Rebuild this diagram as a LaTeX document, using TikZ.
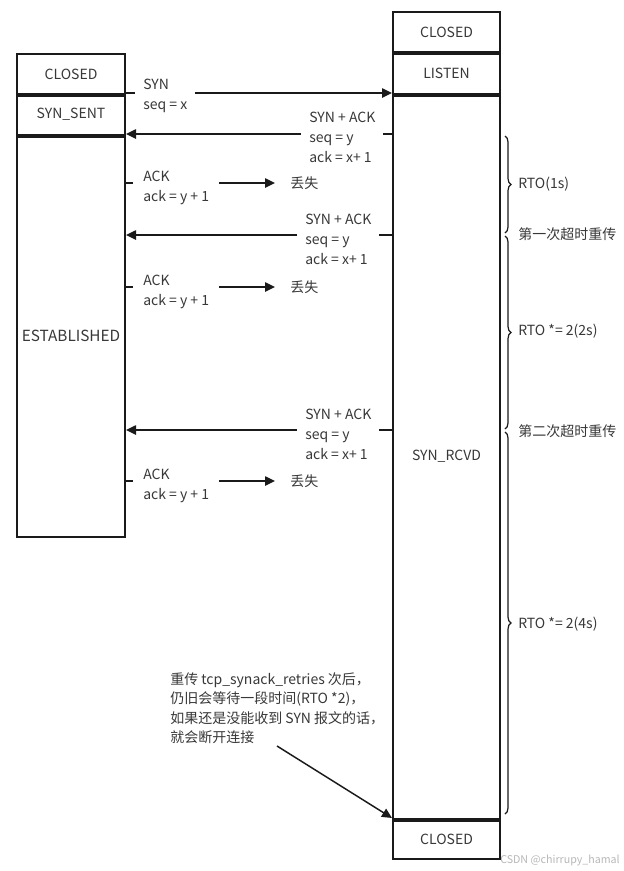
\documentclass[tikz,border=0pt]{standalone}
\usepackage{fontspec}
\setmainfont{Noto Sans CJK SC}
\usetikzlibrary{arrows.meta,decorations.pathreplacing}
\definecolor{txt}{HTML}{383838}
\definecolor{ln}{HTML}{1A1A1A}
\definecolor{wm}{HTML}{B8B8B8}
\begin{document}
\begin{tikzpicture}[x=0.75pt,y=-0.75pt,
  every node/.style={font=\fontsize{10.5}{15}\selectfont, text=txt},
  box/.style={draw=ln, line width=1.5pt, inner sep=0pt, anchor=north west},
  lbox/.style={box, minimum width=81pt},
  rbox/.style={box, minimum width=80.25pt},
  sepline/.style={draw=ln, line width=2.6pt},
  msg/.style={draw=ln, line width=1.1pt, -{Triangle[length=7.5pt,width=7pt]}},
  lbl/.style={fill=white, align=left, inner xsep=6pt, inner ysep=1pt, anchor=west},
  lost/.style={anchor=west, inner xsep=11.25pt, inner ysep=0pt},
  brc/.style={draw=ln, line width=0.9pt, decorate, decoration={brace, amplitude=4.5pt}},
  blbl/.style={anchor=west, inner sep=0pt}]
\useasboundingbox (0,0) rectangle (624,871);
\fill[white] (0,0) rectangle (624,871);

% left column
\node[lbox, minimum height=30pt] (lc) at (16,53) {CLOSED};
\node[lbox, minimum height=30.75pt] (ls) at (16,93) {SYN\_SENT};
\node[lbox, minimum height=301.5pt, font=\fontsize{11.5}{15}\selectfont] (le) at (16,134) {ESTABLISHED};
% right column
\node[rbox, minimum height=30pt] (rc) at (392,11) {CLOSED};
\node[rbox, minimum height=31.5pt] (rl) at (392,51) {LISTEN};
\node[rbox, minimum height=543.75pt] (rr) at (392,93) {SYN\_RCVD};
\node[rbox, minimum height=30pt] (rc2) at (392,818) {CLOSED};

\draw[sepline] (lc.south west) -- (lc.south east);
\draw[sepline] (ls.south west) -- (ls.south east);
\draw[sepline] (rc.south west) -- (rc.south east);
\draw[sepline] (rl.south west) -- (rl.south east);
\draw[sepline] (rr.south west) -- (rr.south east);

% SYN
\draw[msg] (ls.north east) -- (rr.north west);
\node[lbl] (m1) at (135,96) {SYN\\seq = x};
% SYN+ACK 1
\draw[msg] (rr.west |- le.north) -- (le.north east);
\node[lbl] (m2) at (301,137) {SYN + ACK\\seq = y\\ack = x+ 1};
% ACK 1
\node[lost] (d1) at (275,183) {丢失};
\draw[msg] (le.east |- d1.west) -- (d1.west);
\node[lbl, inner xsep=7.5pt] (a1) at (133,188) {ACK\\ack = y + 1};
% SYN+ACK 2
\coordinate (s2) at (392,235);
\draw[msg] (s2) -- (le.east |- s2);
\node[lbl] (m3) at (297,239) {SYN + ACK\\seq = y\\ack = x+ 1};
% ACK 2
\node[lost] (d2) at (275,287) {丢失};
\draw[msg] (le.east |- d2.west) -- (d2.west);
\node[lbl, inner xsep=7.5pt] (a2) at (133,292) {ACK\\ack = y + 1};
% SYN+ACK 3
\coordinate (s3) at (392,430);
\draw[msg] (s3) -- (le.east |- s3);
\node[lbl] (m4) at (297,434) {SYN + ACK\\seq = y\\ack = x+ 1};
% ACK 3
\node[lost] (d3) at (275,481) {丢失};
\draw[msg] (le.east |- d3.west) -- (d3.west);
\node[lbl, inner xsep=7.5pt] (a3) at (133,486) {ACK\\ack = y + 1};

% braces
\draw[brc] (505,136) -- (505,233);
\draw[brc] (505,236) -- (505,429);
\draw[brc] (505,432) -- (505,814);
\node[blbl] (b1) at (518,184) {RTO(1s)};
\node[blbl] (b2) at (518,331) {RTO *= 2(2s)};
\node[blbl] (b3) at (518,624) {RTO *= 2(4s)};
\node[blbl] (t1) at (518,234) {第一次超时重传};
\node[blbl] (t2) at (518,431) {第二次超时重传};

% note
\node[anchor=west, align=left, inner sep=0pt, font=\fontsize{10.5}{14.6}\selectfont] (note) at (170,708)
  {重传 tcp\_synack\_retries 次后，\\仍旧会等待一段时间(RTO *2)，\\如果还是没能收到 SYN 报文的话，\\就会断开连接};
\coordinate (nt) at (277,746);
\draw[msg] (nt) -- (rc2.north west);

% watermark
\node[anchor=west, inner sep=0pt, text=wm, font=\fontsize{8}{10}\selectfont] (wmk) at (500,860) {CSDN @chirrupy\_hamal};
\end{tikzpicture}
\end{document}
